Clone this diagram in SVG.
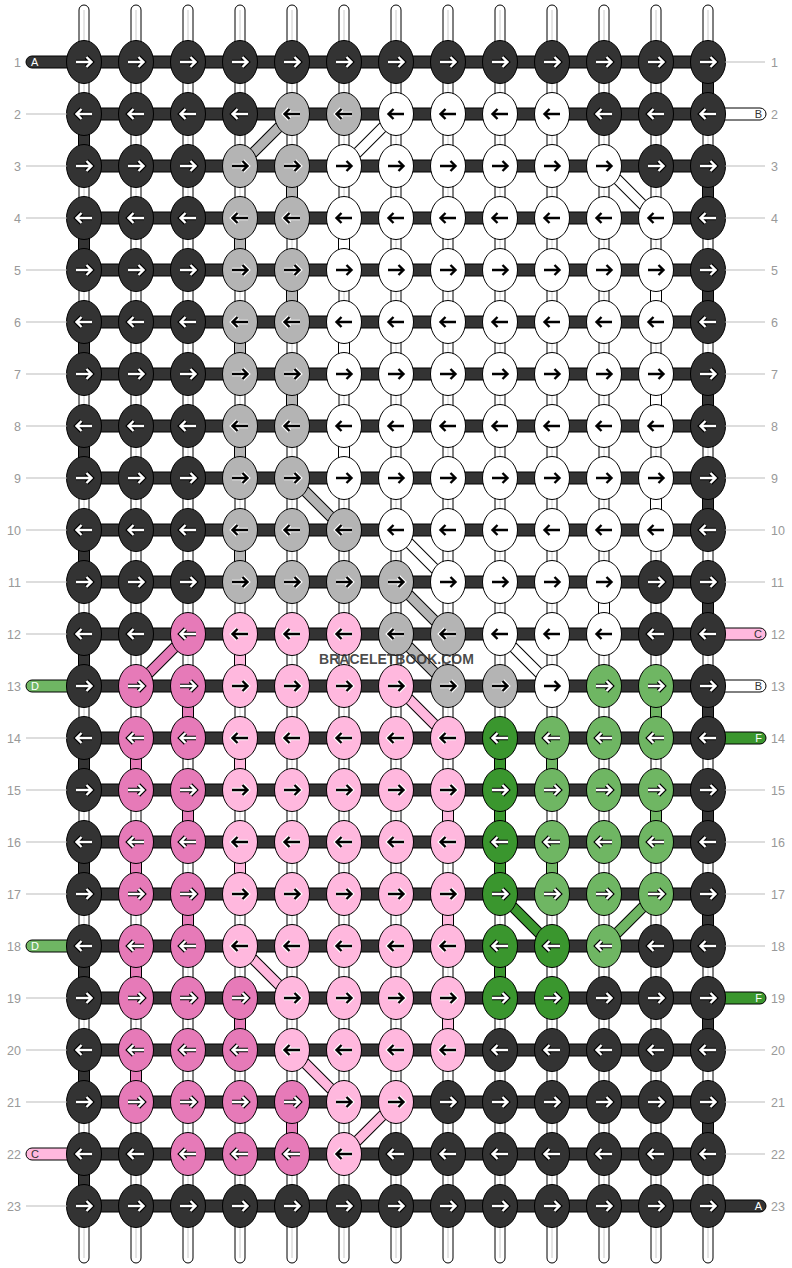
<svg xmlns="http://www.w3.org/2000/svg" xmlns:xlink="http://www.w3.org/1999/xlink" width="792" height="1268" viewBox="0 0 792 1268">
<style>
.D{fill:#333}.W{fill:#fff}.G{fill:#b4b4b4}.P{fill:#ffb8de}.H{fill:#e67ab8}.L{fill:#6fb663}.F{fill:#3a962e}
ellipse,.c rect,.t rect,.bar{stroke:#000;stroke-width:1}
.sw{fill:#fff;stroke:#000;stroke-width:1}.sl{stroke:#ccc;stroke-width:1}
.o{stroke:#000;stroke-width:11}.iG{stroke:#b4b4b4;stroke-width:9}.iW{stroke:#fff;stroke-width:9}.iP{stroke:#ffb8de;stroke-width:9}.iH{stroke:#e67ab8;stroke-width:9}.iL{stroke:#6fb663;stroke-width:9}.iF{stroke:#3a962e;stroke-width:9}
.hk{fill:none;stroke:#000;stroke-width:4.6}.hw{fill:none;stroke:#fff;stroke-width:4.6}
.aw{fill:none;stroke:#fff;stroke-width:2.4}.ab{fill:none;stroke:#000;stroke-width:2.4}
.num{font-family:'Liberation Sans',Arial,sans-serif;font-size:12.5px;fill:#999}
.rl{stroke:#bbb;stroke-width:1}
.tl{font-family:'Liberation Sans',Arial,sans-serif;font-size:11px}
.brand{font-family:'Liberation Sans',Arial,sans-serif;font-weight:bold;font-size:14px;fill:#333;fill-opacity:0.88}
</style>
<defs>
<g id="strand"><rect class="sw" x="-5" y="5" width="10" height="1258" rx="5"/><line class="sl" x1="0" y1="10" x2="0" y2="1258"/></g>
<path id="pr" d="M-8,0H7M2.5,-5L7.5,0L2.5,5"/>
<path id="pl" d="M8,0H-7M-2.5,-5L-7.5,0L-2.5,5"/>
<g id="rw"><use xlink:href="#pr" class="hk"/><use xlink:href="#pr" class="aw"/></g>
<g id="rb"><use xlink:href="#pr" class="hw"/><use xlink:href="#pr" class="ab"/></g>
<g id="lw"><use xlink:href="#pl" class="hk"/><use xlink:href="#pl" class="aw"/></g>
<g id="lb"><use xlink:href="#pl" class="hw"/><use xlink:href="#pl" class="ab"/></g>
</defs>
<rect width="792" height="1268" fill="#fff"/>
<g id="connectors">
<g id="strands">
<use xlink:href="#strand" x="84"/><use xlink:href="#strand" x="136"/><use xlink:href="#strand" x="188"/><use xlink:href="#strand" x="240"/><use xlink:href="#strand" x="292"/><use xlink:href="#strand" x="344"/><use xlink:href="#strand" x="396"/><use xlink:href="#strand" x="448"/><use xlink:href="#strand" x="500"/><use xlink:href="#strand" x="552"/><use xlink:href="#strand" x="604"/><use xlink:href="#strand" x="656"/><use xlink:href="#strand" x="708"/>
</g>
<g id="bars" class="D">
<rect class="bar" x="84" y="56" width="624" height="12"/><rect class="bar" x="84" y="108" width="624" height="12"/><rect class="bar" x="84" y="160" width="624" height="12"/><rect class="bar" x="84" y="212" width="624" height="12"/><rect class="bar" x="84" y="264" width="624" height="12"/><rect class="bar" x="84" y="316" width="624" height="12"/><rect class="bar" x="84" y="368" width="624" height="12"/><rect class="bar" x="84" y="420" width="624" height="12"/><rect class="bar" x="84" y="472" width="624" height="12"/><rect class="bar" x="84" y="524" width="624" height="12"/><rect class="bar" x="84" y="576" width="624" height="12"/><rect class="bar" x="84" y="628" width="624" height="12"/><rect class="bar" x="84" y="680" width="624" height="12"/><rect class="bar" x="84" y="732" width="624" height="12"/><rect class="bar" x="84" y="784" width="624" height="12"/><rect class="bar" x="84" y="836" width="624" height="12"/><rect class="bar" x="84" y="888" width="624" height="12"/><rect class="bar" x="84" y="940" width="624" height="12"/><rect class="bar" x="84" y="992" width="624" height="12"/><rect class="bar" x="84" y="1044" width="624" height="12"/><rect class="bar" x="84" y="1096" width="624" height="12"/><rect class="bar" x="84" y="1148" width="624" height="12"/><rect class="bar" x="84" y="1200" width="624" height="12"/>
</g>
<g id="tails" class="t">
<rect class="D" x="26" y="56" width="62" height="12" rx="6"/>
<rect class="L" x="26" y="680" width="62" height="12" rx="6"/>
<rect class="L" x="26" y="940" width="62" height="12" rx="6"/>
<rect class="P" x="26" y="1148" width="62" height="12" rx="6"/>
<rect class="W" x="704" y="108" width="62" height="12" rx="6"/>
<rect class="P" x="704" y="628" width="62" height="12" rx="6"/>
<rect class="W" x="704" y="680" width="62" height="12" rx="6"/>
<rect class="F" x="704" y="732" width="62" height="12" rx="6"/>
<rect class="F" x="704" y="992" width="62" height="12" rx="6"/>
<rect class="D" x="704" y="1200" width="62" height="12" rx="6"/>
</g>
<g id="verticals" class="c">
<rect class="D" x="78.5" y="114" width="11" height="52"/><rect class="D" x="78.5" y="218" width="11" height="52"/><rect class="D" x="78.5" y="322" width="11" height="52"/><rect class="D" x="78.5" y="426" width="11" height="52"/><rect class="D" x="78.5" y="530" width="11" height="52"/><rect class="D" x="78.5" y="634" width="11" height="52"/><rect class="D" x="78.5" y="738" width="11" height="52"/><rect class="D" x="78.5" y="842" width="11" height="52"/><rect class="D" x="78.5" y="946" width="11" height="52"/><rect class="D" x="78.5" y="1050" width="11" height="52"/><rect class="D" x="78.5" y="1154" width="11" height="52"/>
<rect class="D" x="702.5" y="62" width="11" height="52"/><rect class="D" x="702.5" y="166" width="11" height="52"/><rect class="D" x="702.5" y="270" width="11" height="52"/><rect class="D" x="702.5" y="374" width="11" height="52"/><rect class="D" x="702.5" y="478" width="11" height="52"/><rect class="D" x="702.5" y="582" width="11" height="52"/><rect class="D" x="702.5" y="686" width="11" height="52"/><rect class="D" x="702.5" y="790" width="11" height="52"/><rect class="D" x="702.5" y="894" width="11" height="52"/><rect class="D" x="702.5" y="998" width="11" height="52"/><rect class="D" x="702.5" y="1102" width="11" height="52"/>
<rect class="G" x="286.5" y="166" width="11" height="52"/><rect class="G" x="286.5" y="270" width="11" height="52"/><rect class="G" x="286.5" y="374" width="11" height="52"/>
<rect class="G" x="234.5" y="218" width="11" height="52"/><rect class="G" x="234.5" y="322" width="11" height="52"/><rect class="G" x="234.5" y="426" width="11" height="52"/><rect class="G" x="234.5" y="530" width="11" height="52"/>
<rect class="W" x="338.5" y="218" width="11" height="52"/><rect class="W" x="338.5" y="322" width="11" height="52"/><rect class="W" x="338.5" y="426" width="11" height="52"/>
<rect class="W" x="650.5" y="270" width="11" height="52"/><rect class="W" x="650.5" y="374" width="11" height="52"/><rect class="W" x="650.5" y="478" width="11" height="52"/>
<rect class="W" x="598.5" y="582" width="11" height="52"/>
<rect class="P" x="234.5" y="634" width="11" height="52"/><rect class="P" x="234.5" y="738" width="11" height="52"/><rect class="P" x="234.5" y="842" width="11" height="52"/>
<rect class="P" x="442.5" y="790" width="11" height="52"/><rect class="P" x="442.5" y="894" width="11" height="52"/><rect class="P" x="442.5" y="998" width="11" height="52"/>
<rect class="H" x="182.5" y="686" width="11" height="52"/><rect class="H" x="182.5" y="790" width="11" height="52"/><rect class="H" x="182.5" y="894" width="11" height="52"/>
<rect class="H" x="130.5" y="738" width="11" height="52"/><rect class="H" x="130.5" y="842" width="11" height="52"/><rect class="H" x="130.5" y="946" width="11" height="52"/><rect class="H" x="130.5" y="1050" width="11" height="52"/>
<rect class="H" x="234.5" y="998" width="11" height="52"/><rect class="H" x="286.5" y="1102" width="11" height="52"/>
<rect class="L" x="650.5" y="686" width="11" height="52"/><rect class="L" x="650.5" y="790" width="11" height="52"/>
<rect class="L" x="546.5" y="738" width="11" height="52"/><rect class="L" x="546.5" y="842" width="11" height="52"/>
<rect class="F" x="494.5" y="738" width="11" height="52"/><rect class="F" x="494.5" y="790" width="11" height="52"/><rect class="F" x="494.5" y="842" width="11" height="52"/><rect class="F" x="494.5" y="946" width="11" height="52"/>
</g>
<g id="diagonals">
<line class="o" x1="292" y1="114" x2="240" y2="166"/><line class="iG" x1="292" y1="114" x2="240" y2="166"/>
<line class="o" x1="292" y1="478" x2="344" y2="530"/><line class="iG" x1="292" y1="478" x2="344" y2="530"/>
<line class="o" x1="396" y1="582" x2="448" y2="634"/><line class="iG" x1="396" y1="582" x2="448" y2="634"/>
<line class="o" x1="396" y1="634" x2="448" y2="686"/><line class="iG" x1="396" y1="634" x2="448" y2="686"/>
<line class="o" x1="396" y1="114" x2="344" y2="166"/><line class="iW" x1="396" y1="114" x2="344" y2="166"/>
<line class="o" x1="604" y1="166" x2="656" y2="218"/><line class="iW" x1="604" y1="166" x2="656" y2="218"/>
<line class="o" x1="396" y1="530" x2="448" y2="582"/><line class="iW" x1="396" y1="530" x2="448" y2="582"/>
<line class="o" x1="500" y1="634" x2="552" y2="686"/><line class="iW" x1="500" y1="634" x2="552" y2="686"/>
<line class="o" x1="396" y1="686" x2="448" y2="738"/><line class="iP" x1="396" y1="686" x2="448" y2="738"/>
<line class="o" x1="240" y1="946" x2="292" y2="998"/><line class="iP" x1="240" y1="946" x2="292" y2="998"/>
<line class="o" x1="292" y1="1050" x2="344" y2="1102"/><line class="iP" x1="292" y1="1050" x2="344" y2="1102"/>
<line class="o" x1="396" y1="1102" x2="344" y2="1154"/><line class="iP" x1="396" y1="1102" x2="344" y2="1154"/>
<line class="o" x1="188" y1="634" x2="136" y2="686"/><line class="iH" x1="188" y1="634" x2="136" y2="686"/>
<line class="o" x1="656" y1="894" x2="604" y2="946"/><line class="iL" x1="656" y1="894" x2="604" y2="946"/>
<line class="o" x1="500" y1="894" x2="552" y2="946"/><line class="iF" x1="500" y1="894" x2="552" y2="946"/>
</g>
</g>
<g id="knots">
<g id="row1">
<g id="k1-1" transform="translate(84,62)"><ellipse class="D" rx="17.5" ry="21.5"/><use xlink:href="#rw"/></g>
<g id="k1-2" transform="translate(136,62)"><ellipse class="D" rx="17.5" ry="21.5"/><use xlink:href="#rw"/></g>
<g id="k1-3" transform="translate(188,62)"><ellipse class="D" rx="17.5" ry="21.5"/><use xlink:href="#rw"/></g>
<g id="k1-4" transform="translate(240,62)"><ellipse class="D" rx="17.5" ry="21.5"/><use xlink:href="#rw"/></g>
<g id="k1-5" transform="translate(292,62)"><ellipse class="D" rx="17.5" ry="21.5"/><use xlink:href="#rw"/></g>
<g id="k1-6" transform="translate(344,62)"><ellipse class="D" rx="17.5" ry="21.5"/><use xlink:href="#rw"/></g>
<g id="k1-7" transform="translate(396,62)"><ellipse class="D" rx="17.5" ry="21.5"/><use xlink:href="#rw"/></g>
<g id="k1-8" transform="translate(448,62)"><ellipse class="D" rx="17.5" ry="21.5"/><use xlink:href="#rw"/></g>
<g id="k1-9" transform="translate(500,62)"><ellipse class="D" rx="17.5" ry="21.5"/><use xlink:href="#rw"/></g>
<g id="k1-10" transform="translate(552,62)"><ellipse class="D" rx="17.5" ry="21.5"/><use xlink:href="#rw"/></g>
<g id="k1-11" transform="translate(604,62)"><ellipse class="D" rx="17.5" ry="21.5"/><use xlink:href="#rw"/></g>
<g id="k1-12" transform="translate(656,62)"><ellipse class="D" rx="17.5" ry="21.5"/><use xlink:href="#rw"/></g>
<g id="k1-13" transform="translate(708,62)"><ellipse class="D" rx="17.5" ry="21.5"/><use xlink:href="#rw"/></g>
</g>
<g id="row2">
<g id="k2-1" transform="translate(84,114)"><ellipse class="D" rx="17.5" ry="21.5"/><use xlink:href="#lw"/></g>
<g id="k2-2" transform="translate(136,114)"><ellipse class="D" rx="17.5" ry="21.5"/><use xlink:href="#lw"/></g>
<g id="k2-3" transform="translate(188,114)"><ellipse class="D" rx="17.5" ry="21.5"/><use xlink:href="#lw"/></g>
<g id="k2-4" transform="translate(240,114)"><ellipse class="D" rx="17.5" ry="21.5"/><use xlink:href="#lw"/></g>
<g id="k2-5" transform="translate(292,114)"><ellipse class="G" rx="17.5" ry="21.5"/><use xlink:href="#lb"/></g>
<g id="k2-6" transform="translate(344,114)"><ellipse class="G" rx="17.5" ry="21.5"/><use xlink:href="#lb"/></g>
<g id="k2-7" transform="translate(396,114)"><ellipse class="W" rx="17.5" ry="21.5"/><use xlink:href="#lb"/></g>
<g id="k2-8" transform="translate(448,114)"><ellipse class="W" rx="17.5" ry="21.5"/><use xlink:href="#lb"/></g>
<g id="k2-9" transform="translate(500,114)"><ellipse class="W" rx="17.5" ry="21.5"/><use xlink:href="#lb"/></g>
<g id="k2-10" transform="translate(552,114)"><ellipse class="W" rx="17.5" ry="21.5"/><use xlink:href="#lb"/></g>
<g id="k2-11" transform="translate(604,114)"><ellipse class="D" rx="17.5" ry="21.5"/><use xlink:href="#lw"/></g>
<g id="k2-12" transform="translate(656,114)"><ellipse class="D" rx="17.5" ry="21.5"/><use xlink:href="#lw"/></g>
<g id="k2-13" transform="translate(708,114)"><ellipse class="D" rx="17.5" ry="21.5"/><use xlink:href="#lw"/></g>
</g>
<g id="row3">
<g id="k3-1" transform="translate(84,166)"><ellipse class="D" rx="17.5" ry="21.5"/><use xlink:href="#rw"/></g>
<g id="k3-2" transform="translate(136,166)"><ellipse class="D" rx="17.5" ry="21.5"/><use xlink:href="#rw"/></g>
<g id="k3-3" transform="translate(188,166)"><ellipse class="D" rx="17.5" ry="21.5"/><use xlink:href="#rw"/></g>
<g id="k3-4" transform="translate(240,166)"><ellipse class="G" rx="17.5" ry="21.5"/><use xlink:href="#rb"/></g>
<g id="k3-5" transform="translate(292,166)"><ellipse class="G" rx="17.5" ry="21.5"/><use xlink:href="#rb"/></g>
<g id="k3-6" transform="translate(344,166)"><ellipse class="W" rx="17.5" ry="21.5"/><use xlink:href="#rb"/></g>
<g id="k3-7" transform="translate(396,166)"><ellipse class="W" rx="17.5" ry="21.5"/><use xlink:href="#rb"/></g>
<g id="k3-8" transform="translate(448,166)"><ellipse class="W" rx="17.5" ry="21.5"/><use xlink:href="#rb"/></g>
<g id="k3-9" transform="translate(500,166)"><ellipse class="W" rx="17.5" ry="21.5"/><use xlink:href="#rb"/></g>
<g id="k3-10" transform="translate(552,166)"><ellipse class="W" rx="17.5" ry="21.5"/><use xlink:href="#rb"/></g>
<g id="k3-11" transform="translate(604,166)"><ellipse class="W" rx="17.5" ry="21.5"/><use xlink:href="#rb"/></g>
<g id="k3-12" transform="translate(656,166)"><ellipse class="D" rx="17.5" ry="21.5"/><use xlink:href="#rw"/></g>
<g id="k3-13" transform="translate(708,166)"><ellipse class="D" rx="17.5" ry="21.5"/><use xlink:href="#rw"/></g>
</g>
<g id="row4">
<g id="k4-1" transform="translate(84,218)"><ellipse class="D" rx="17.5" ry="21.5"/><use xlink:href="#lw"/></g>
<g id="k4-2" transform="translate(136,218)"><ellipse class="D" rx="17.5" ry="21.5"/><use xlink:href="#lw"/></g>
<g id="k4-3" transform="translate(188,218)"><ellipse class="D" rx="17.5" ry="21.5"/><use xlink:href="#lw"/></g>
<g id="k4-4" transform="translate(240,218)"><ellipse class="G" rx="17.5" ry="21.5"/><use xlink:href="#lb"/></g>
<g id="k4-5" transform="translate(292,218)"><ellipse class="G" rx="17.5" ry="21.5"/><use xlink:href="#lb"/></g>
<g id="k4-6" transform="translate(344,218)"><ellipse class="W" rx="17.5" ry="21.5"/><use xlink:href="#lb"/></g>
<g id="k4-7" transform="translate(396,218)"><ellipse class="W" rx="17.5" ry="21.5"/><use xlink:href="#lb"/></g>
<g id="k4-8" transform="translate(448,218)"><ellipse class="W" rx="17.5" ry="21.5"/><use xlink:href="#lb"/></g>
<g id="k4-9" transform="translate(500,218)"><ellipse class="W" rx="17.5" ry="21.5"/><use xlink:href="#lb"/></g>
<g id="k4-10" transform="translate(552,218)"><ellipse class="W" rx="17.5" ry="21.5"/><use xlink:href="#lb"/></g>
<g id="k4-11" transform="translate(604,218)"><ellipse class="W" rx="17.5" ry="21.5"/><use xlink:href="#lb"/></g>
<g id="k4-12" transform="translate(656,218)"><ellipse class="W" rx="17.5" ry="21.5"/><use xlink:href="#lb"/></g>
<g id="k4-13" transform="translate(708,218)"><ellipse class="D" rx="17.5" ry="21.5"/><use xlink:href="#lw"/></g>
</g>
<g id="row5">
<g id="k5-1" transform="translate(84,270)"><ellipse class="D" rx="17.5" ry="21.5"/><use xlink:href="#rw"/></g>
<g id="k5-2" transform="translate(136,270)"><ellipse class="D" rx="17.5" ry="21.5"/><use xlink:href="#rw"/></g>
<g id="k5-3" transform="translate(188,270)"><ellipse class="D" rx="17.5" ry="21.5"/><use xlink:href="#rw"/></g>
<g id="k5-4" transform="translate(240,270)"><ellipse class="G" rx="17.5" ry="21.5"/><use xlink:href="#rb"/></g>
<g id="k5-5" transform="translate(292,270)"><ellipse class="G" rx="17.5" ry="21.5"/><use xlink:href="#rb"/></g>
<g id="k5-6" transform="translate(344,270)"><ellipse class="W" rx="17.5" ry="21.5"/><use xlink:href="#rb"/></g>
<g id="k5-7" transform="translate(396,270)"><ellipse class="W" rx="17.5" ry="21.5"/><use xlink:href="#rb"/></g>
<g id="k5-8" transform="translate(448,270)"><ellipse class="W" rx="17.5" ry="21.5"/><use xlink:href="#rb"/></g>
<g id="k5-9" transform="translate(500,270)"><ellipse class="W" rx="17.5" ry="21.5"/><use xlink:href="#rb"/></g>
<g id="k5-10" transform="translate(552,270)"><ellipse class="W" rx="17.5" ry="21.5"/><use xlink:href="#rb"/></g>
<g id="k5-11" transform="translate(604,270)"><ellipse class="W" rx="17.5" ry="21.5"/><use xlink:href="#rb"/></g>
<g id="k5-12" transform="translate(656,270)"><ellipse class="W" rx="17.5" ry="21.5"/><use xlink:href="#rb"/></g>
<g id="k5-13" transform="translate(708,270)"><ellipse class="D" rx="17.5" ry="21.5"/><use xlink:href="#rw"/></g>
</g>
<g id="row6">
<g id="k6-1" transform="translate(84,322)"><ellipse class="D" rx="17.5" ry="21.5"/><use xlink:href="#lw"/></g>
<g id="k6-2" transform="translate(136,322)"><ellipse class="D" rx="17.5" ry="21.5"/><use xlink:href="#lw"/></g>
<g id="k6-3" transform="translate(188,322)"><ellipse class="D" rx="17.5" ry="21.5"/><use xlink:href="#lw"/></g>
<g id="k6-4" transform="translate(240,322)"><ellipse class="G" rx="17.5" ry="21.5"/><use xlink:href="#lb"/></g>
<g id="k6-5" transform="translate(292,322)"><ellipse class="G" rx="17.5" ry="21.5"/><use xlink:href="#lb"/></g>
<g id="k6-6" transform="translate(344,322)"><ellipse class="W" rx="17.5" ry="21.5"/><use xlink:href="#lb"/></g>
<g id="k6-7" transform="translate(396,322)"><ellipse class="W" rx="17.5" ry="21.5"/><use xlink:href="#lb"/></g>
<g id="k6-8" transform="translate(448,322)"><ellipse class="W" rx="17.5" ry="21.5"/><use xlink:href="#lb"/></g>
<g id="k6-9" transform="translate(500,322)"><ellipse class="W" rx="17.5" ry="21.5"/><use xlink:href="#lb"/></g>
<g id="k6-10" transform="translate(552,322)"><ellipse class="W" rx="17.5" ry="21.5"/><use xlink:href="#lb"/></g>
<g id="k6-11" transform="translate(604,322)"><ellipse class="W" rx="17.5" ry="21.5"/><use xlink:href="#lb"/></g>
<g id="k6-12" transform="translate(656,322)"><ellipse class="W" rx="17.5" ry="21.5"/><use xlink:href="#lb"/></g>
<g id="k6-13" transform="translate(708,322)"><ellipse class="D" rx="17.5" ry="21.5"/><use xlink:href="#lw"/></g>
</g>
<g id="row7">
<g id="k7-1" transform="translate(84,374)"><ellipse class="D" rx="17.5" ry="21.5"/><use xlink:href="#rw"/></g>
<g id="k7-2" transform="translate(136,374)"><ellipse class="D" rx="17.5" ry="21.5"/><use xlink:href="#rw"/></g>
<g id="k7-3" transform="translate(188,374)"><ellipse class="D" rx="17.5" ry="21.5"/><use xlink:href="#rw"/></g>
<g id="k7-4" transform="translate(240,374)"><ellipse class="G" rx="17.5" ry="21.5"/><use xlink:href="#rb"/></g>
<g id="k7-5" transform="translate(292,374)"><ellipse class="G" rx="17.5" ry="21.5"/><use xlink:href="#rb"/></g>
<g id="k7-6" transform="translate(344,374)"><ellipse class="W" rx="17.5" ry="21.5"/><use xlink:href="#rb"/></g>
<g id="k7-7" transform="translate(396,374)"><ellipse class="W" rx="17.5" ry="21.5"/><use xlink:href="#rb"/></g>
<g id="k7-8" transform="translate(448,374)"><ellipse class="W" rx="17.5" ry="21.5"/><use xlink:href="#rb"/></g>
<g id="k7-9" transform="translate(500,374)"><ellipse class="W" rx="17.5" ry="21.5"/><use xlink:href="#rb"/></g>
<g id="k7-10" transform="translate(552,374)"><ellipse class="W" rx="17.5" ry="21.5"/><use xlink:href="#rb"/></g>
<g id="k7-11" transform="translate(604,374)"><ellipse class="W" rx="17.5" ry="21.5"/><use xlink:href="#rb"/></g>
<g id="k7-12" transform="translate(656,374)"><ellipse class="W" rx="17.5" ry="21.5"/><use xlink:href="#rb"/></g>
<g id="k7-13" transform="translate(708,374)"><ellipse class="D" rx="17.5" ry="21.5"/><use xlink:href="#rw"/></g>
</g>
<g id="row8">
<g id="k8-1" transform="translate(84,426)"><ellipse class="D" rx="17.5" ry="21.5"/><use xlink:href="#lw"/></g>
<g id="k8-2" transform="translate(136,426)"><ellipse class="D" rx="17.5" ry="21.5"/><use xlink:href="#lw"/></g>
<g id="k8-3" transform="translate(188,426)"><ellipse class="D" rx="17.5" ry="21.5"/><use xlink:href="#lw"/></g>
<g id="k8-4" transform="translate(240,426)"><ellipse class="G" rx="17.5" ry="21.5"/><use xlink:href="#lb"/></g>
<g id="k8-5" transform="translate(292,426)"><ellipse class="G" rx="17.5" ry="21.5"/><use xlink:href="#lb"/></g>
<g id="k8-6" transform="translate(344,426)"><ellipse class="W" rx="17.5" ry="21.5"/><use xlink:href="#lb"/></g>
<g id="k8-7" transform="translate(396,426)"><ellipse class="W" rx="17.5" ry="21.5"/><use xlink:href="#lb"/></g>
<g id="k8-8" transform="translate(448,426)"><ellipse class="W" rx="17.5" ry="21.5"/><use xlink:href="#lb"/></g>
<g id="k8-9" transform="translate(500,426)"><ellipse class="W" rx="17.5" ry="21.5"/><use xlink:href="#lb"/></g>
<g id="k8-10" transform="translate(552,426)"><ellipse class="W" rx="17.5" ry="21.5"/><use xlink:href="#lb"/></g>
<g id="k8-11" transform="translate(604,426)"><ellipse class="W" rx="17.5" ry="21.5"/><use xlink:href="#lb"/></g>
<g id="k8-12" transform="translate(656,426)"><ellipse class="W" rx="17.5" ry="21.5"/><use xlink:href="#lb"/></g>
<g id="k8-13" transform="translate(708,426)"><ellipse class="D" rx="17.5" ry="21.5"/><use xlink:href="#lw"/></g>
</g>
<g id="row9">
<g id="k9-1" transform="translate(84,478)"><ellipse class="D" rx="17.5" ry="21.5"/><use xlink:href="#rw"/></g>
<g id="k9-2" transform="translate(136,478)"><ellipse class="D" rx="17.5" ry="21.5"/><use xlink:href="#rw"/></g>
<g id="k9-3" transform="translate(188,478)"><ellipse class="D" rx="17.5" ry="21.5"/><use xlink:href="#rw"/></g>
<g id="k9-4" transform="translate(240,478)"><ellipse class="G" rx="17.5" ry="21.5"/><use xlink:href="#rb"/></g>
<g id="k9-5" transform="translate(292,478)"><ellipse class="G" rx="17.5" ry="21.5"/><use xlink:href="#rb"/></g>
<g id="k9-6" transform="translate(344,478)"><ellipse class="W" rx="17.5" ry="21.5"/><use xlink:href="#rb"/></g>
<g id="k9-7" transform="translate(396,478)"><ellipse class="W" rx="17.5" ry="21.5"/><use xlink:href="#rb"/></g>
<g id="k9-8" transform="translate(448,478)"><ellipse class="W" rx="17.5" ry="21.5"/><use xlink:href="#rb"/></g>
<g id="k9-9" transform="translate(500,478)"><ellipse class="W" rx="17.5" ry="21.5"/><use xlink:href="#rb"/></g>
<g id="k9-10" transform="translate(552,478)"><ellipse class="W" rx="17.5" ry="21.5"/><use xlink:href="#rb"/></g>
<g id="k9-11" transform="translate(604,478)"><ellipse class="W" rx="17.5" ry="21.5"/><use xlink:href="#rb"/></g>
<g id="k9-12" transform="translate(656,478)"><ellipse class="W" rx="17.5" ry="21.5"/><use xlink:href="#rb"/></g>
<g id="k9-13" transform="translate(708,478)"><ellipse class="D" rx="17.5" ry="21.5"/><use xlink:href="#rw"/></g>
</g>
<g id="row10">
<g id="k10-1" transform="translate(84,530)"><ellipse class="D" rx="17.5" ry="21.5"/><use xlink:href="#lw"/></g>
<g id="k10-2" transform="translate(136,530)"><ellipse class="D" rx="17.5" ry="21.5"/><use xlink:href="#lw"/></g>
<g id="k10-3" transform="translate(188,530)"><ellipse class="D" rx="17.5" ry="21.5"/><use xlink:href="#lw"/></g>
<g id="k10-4" transform="translate(240,530)"><ellipse class="G" rx="17.5" ry="21.5"/><use xlink:href="#lb"/></g>
<g id="k10-5" transform="translate(292,530)"><ellipse class="G" rx="17.5" ry="21.5"/><use xlink:href="#lb"/></g>
<g id="k10-6" transform="translate(344,530)"><ellipse class="G" rx="17.5" ry="21.5"/><use xlink:href="#lb"/></g>
<g id="k10-7" transform="translate(396,530)"><ellipse class="W" rx="17.5" ry="21.5"/><use xlink:href="#lb"/></g>
<g id="k10-8" transform="translate(448,530)"><ellipse class="W" rx="17.5" ry="21.5"/><use xlink:href="#lb"/></g>
<g id="k10-9" transform="translate(500,530)"><ellipse class="W" rx="17.5" ry="21.5"/><use xlink:href="#lb"/></g>
<g id="k10-10" transform="translate(552,530)"><ellipse class="W" rx="17.5" ry="21.5"/><use xlink:href="#lb"/></g>
<g id="k10-11" transform="translate(604,530)"><ellipse class="W" rx="17.5" ry="21.5"/><use xlink:href="#lb"/></g>
<g id="k10-12" transform="translate(656,530)"><ellipse class="W" rx="17.5" ry="21.5"/><use xlink:href="#lb"/></g>
<g id="k10-13" transform="translate(708,530)"><ellipse class="D" rx="17.5" ry="21.5"/><use xlink:href="#lw"/></g>
</g>
<g id="row11">
<g id="k11-1" transform="translate(84,582)"><ellipse class="D" rx="17.5" ry="21.5"/><use xlink:href="#rw"/></g>
<g id="k11-2" transform="translate(136,582)"><ellipse class="D" rx="17.5" ry="21.5"/><use xlink:href="#rw"/></g>
<g id="k11-3" transform="translate(188,582)"><ellipse class="D" rx="17.5" ry="21.5"/><use xlink:href="#rw"/></g>
<g id="k11-4" transform="translate(240,582)"><ellipse class="G" rx="17.5" ry="21.5"/><use xlink:href="#rb"/></g>
<g id="k11-5" transform="translate(292,582)"><ellipse class="G" rx="17.5" ry="21.5"/><use xlink:href="#rb"/></g>
<g id="k11-6" transform="translate(344,582)"><ellipse class="G" rx="17.5" ry="21.5"/><use xlink:href="#rb"/></g>
<g id="k11-7" transform="translate(396,582)"><ellipse class="G" rx="17.5" ry="21.5"/><use xlink:href="#rb"/></g>
<g id="k11-8" transform="translate(448,582)"><ellipse class="W" rx="17.5" ry="21.5"/><use xlink:href="#rb"/></g>
<g id="k11-9" transform="translate(500,582)"><ellipse class="W" rx="17.5" ry="21.5"/><use xlink:href="#rb"/></g>
<g id="k11-10" transform="translate(552,582)"><ellipse class="W" rx="17.5" ry="21.5"/><use xlink:href="#rb"/></g>
<g id="k11-11" transform="translate(604,582)"><ellipse class="W" rx="17.5" ry="21.5"/><use xlink:href="#rb"/></g>
<g id="k11-12" transform="translate(656,582)"><ellipse class="D" rx="17.5" ry="21.5"/><use xlink:href="#rw"/></g>
<g id="k11-13" transform="translate(708,582)"><ellipse class="D" rx="17.5" ry="21.5"/><use xlink:href="#rw"/></g>
</g>
<g id="row12">
<g id="k12-1" transform="translate(84,634)"><ellipse class="D" rx="17.5" ry="21.5"/><use xlink:href="#lw"/></g>
<g id="k12-2" transform="translate(136,634)"><ellipse class="D" rx="17.5" ry="21.5"/><use xlink:href="#lw"/></g>
<g id="k12-3" transform="translate(188,634)"><ellipse class="H" rx="17.5" ry="21.5"/><use xlink:href="#lw"/></g>
<g id="k12-4" transform="translate(240,634)"><ellipse class="P" rx="17.5" ry="21.5"/><use xlink:href="#lb"/></g>
<g id="k12-5" transform="translate(292,634)"><ellipse class="P" rx="17.5" ry="21.5"/><use xlink:href="#lb"/></g>
<g id="k12-6" transform="translate(344,634)"><ellipse class="P" rx="17.5" ry="21.5"/><use xlink:href="#lb"/></g>
<g id="k12-7" transform="translate(396,634)"><ellipse class="G" rx="17.5" ry="21.5"/><use xlink:href="#lb"/></g>
<g id="k12-8" transform="translate(448,634)"><ellipse class="G" rx="17.5" ry="21.5"/><use xlink:href="#lb"/></g>
<g id="k12-9" transform="translate(500,634)"><ellipse class="W" rx="17.5" ry="21.5"/><use xlink:href="#lb"/></g>
<g id="k12-10" transform="translate(552,634)"><ellipse class="W" rx="17.5" ry="21.5"/><use xlink:href="#lb"/></g>
<g id="k12-11" transform="translate(604,634)"><ellipse class="W" rx="17.5" ry="21.5"/><use xlink:href="#lb"/></g>
<g id="k12-12" transform="translate(656,634)"><ellipse class="D" rx="17.5" ry="21.5"/><use xlink:href="#lw"/></g>
<g id="k12-13" transform="translate(708,634)"><ellipse class="D" rx="17.5" ry="21.5"/><use xlink:href="#lw"/></g>
</g>
<g id="row13">
<g id="k13-1" transform="translate(84,686)"><ellipse class="D" rx="17.5" ry="21.5"/><use xlink:href="#rw"/></g>
<g id="k13-2" transform="translate(136,686)"><ellipse class="H" rx="17.5" ry="21.5"/><use xlink:href="#rw"/></g>
<g id="k13-3" transform="translate(188,686)"><ellipse class="H" rx="17.5" ry="21.5"/><use xlink:href="#rw"/></g>
<g id="k13-4" transform="translate(240,686)"><ellipse class="P" rx="17.5" ry="21.5"/><use xlink:href="#rb"/></g>
<g id="k13-5" transform="translate(292,686)"><ellipse class="P" rx="17.5" ry="21.5"/><use xlink:href="#rb"/></g>
<g id="k13-6" transform="translate(344,686)"><ellipse class="P" rx="17.5" ry="21.5"/><use xlink:href="#rb"/></g>
<g id="k13-7" transform="translate(396,686)"><ellipse class="P" rx="17.5" ry="21.5"/><use xlink:href="#rb"/></g>
<g id="k13-8" transform="translate(448,686)"><ellipse class="G" rx="17.5" ry="21.5"/><use xlink:href="#rb"/></g>
<g id="k13-9" transform="translate(500,686)"><ellipse class="G" rx="17.5" ry="21.5"/><use xlink:href="#rb"/></g>
<g id="k13-10" transform="translate(552,686)"><ellipse class="W" rx="17.5" ry="21.5"/><use xlink:href="#rb"/></g>
<g id="k13-11" transform="translate(604,686)"><ellipse class="L" rx="17.5" ry="21.5"/><use xlink:href="#rw"/></g>
<g id="k13-12" transform="translate(656,686)"><ellipse class="L" rx="17.5" ry="21.5"/><use xlink:href="#rw"/></g>
<g id="k13-13" transform="translate(708,686)"><ellipse class="D" rx="17.5" ry="21.5"/><use xlink:href="#rw"/></g>
</g>
<g id="row14">
<g id="k14-1" transform="translate(84,738)"><ellipse class="D" rx="17.5" ry="21.5"/><use xlink:href="#lw"/></g>
<g id="k14-2" transform="translate(136,738)"><ellipse class="H" rx="17.5" ry="21.5"/><use xlink:href="#lw"/></g>
<g id="k14-3" transform="translate(188,738)"><ellipse class="H" rx="17.5" ry="21.5"/><use xlink:href="#lw"/></g>
<g id="k14-4" transform="translate(240,738)"><ellipse class="P" rx="17.5" ry="21.5"/><use xlink:href="#lb"/></g>
<g id="k14-5" transform="translate(292,738)"><ellipse class="P" rx="17.5" ry="21.5"/><use xlink:href="#lb"/></g>
<g id="k14-6" transform="translate(344,738)"><ellipse class="P" rx="17.5" ry="21.5"/><use xlink:href="#lb"/></g>
<g id="k14-7" transform="translate(396,738)"><ellipse class="P" rx="17.5" ry="21.5"/><use xlink:href="#lb"/></g>
<g id="k14-8" transform="translate(448,738)"><ellipse class="P" rx="17.5" ry="21.5"/><use xlink:href="#lb"/></g>
<g id="k14-9" transform="translate(500,738)"><ellipse class="F" rx="17.5" ry="21.5"/><use xlink:href="#lw"/></g>
<g id="k14-10" transform="translate(552,738)"><ellipse class="L" rx="17.5" ry="21.5"/><use xlink:href="#lw"/></g>
<g id="k14-11" transform="translate(604,738)"><ellipse class="L" rx="17.5" ry="21.5"/><use xlink:href="#lw"/></g>
<g id="k14-12" transform="translate(656,738)"><ellipse class="L" rx="17.5" ry="21.5"/><use xlink:href="#lw"/></g>
<g id="k14-13" transform="translate(708,738)"><ellipse class="D" rx="17.5" ry="21.5"/><use xlink:href="#lw"/></g>
</g>
<g id="row15">
<g id="k15-1" transform="translate(84,790)"><ellipse class="D" rx="17.5" ry="21.5"/><use xlink:href="#rw"/></g>
<g id="k15-2" transform="translate(136,790)"><ellipse class="H" rx="17.5" ry="21.5"/><use xlink:href="#rw"/></g>
<g id="k15-3" transform="translate(188,790)"><ellipse class="H" rx="17.5" ry="21.5"/><use xlink:href="#rw"/></g>
<g id="k15-4" transform="translate(240,790)"><ellipse class="P" rx="17.5" ry="21.5"/><use xlink:href="#rb"/></g>
<g id="k15-5" transform="translate(292,790)"><ellipse class="P" rx="17.5" ry="21.5"/><use xlink:href="#rb"/></g>
<g id="k15-6" transform="translate(344,790)"><ellipse class="P" rx="17.5" ry="21.5"/><use xlink:href="#rb"/></g>
<g id="k15-7" transform="translate(396,790)"><ellipse class="P" rx="17.5" ry="21.5"/><use xlink:href="#rb"/></g>
<g id="k15-8" transform="translate(448,790)"><ellipse class="P" rx="17.5" ry="21.5"/><use xlink:href="#rb"/></g>
<g id="k15-9" transform="translate(500,790)"><ellipse class="F" rx="17.5" ry="21.5"/><use xlink:href="#rw"/></g>
<g id="k15-10" transform="translate(552,790)"><ellipse class="L" rx="17.5" ry="21.5"/><use xlink:href="#rw"/></g>
<g id="k15-11" transform="translate(604,790)"><ellipse class="L" rx="17.5" ry="21.5"/><use xlink:href="#rw"/></g>
<g id="k15-12" transform="translate(656,790)"><ellipse class="L" rx="17.5" ry="21.5"/><use xlink:href="#rw"/></g>
<g id="k15-13" transform="translate(708,790)"><ellipse class="D" rx="17.5" ry="21.5"/><use xlink:href="#rw"/></g>
</g>
<g id="row16">
<g id="k16-1" transform="translate(84,842)"><ellipse class="D" rx="17.5" ry="21.5"/><use xlink:href="#lw"/></g>
<g id="k16-2" transform="translate(136,842)"><ellipse class="H" rx="17.5" ry="21.5"/><use xlink:href="#lw"/></g>
<g id="k16-3" transform="translate(188,842)"><ellipse class="H" rx="17.5" ry="21.5"/><use xlink:href="#lw"/></g>
<g id="k16-4" transform="translate(240,842)"><ellipse class="P" rx="17.5" ry="21.5"/><use xlink:href="#lb"/></g>
<g id="k16-5" transform="translate(292,842)"><ellipse class="P" rx="17.5" ry="21.5"/><use xlink:href="#lb"/></g>
<g id="k16-6" transform="translate(344,842)"><ellipse class="P" rx="17.5" ry="21.5"/><use xlink:href="#lb"/></g>
<g id="k16-7" transform="translate(396,842)"><ellipse class="P" rx="17.5" ry="21.5"/><use xlink:href="#lb"/></g>
<g id="k16-8" transform="translate(448,842)"><ellipse class="P" rx="17.5" ry="21.5"/><use xlink:href="#lb"/></g>
<g id="k16-9" transform="translate(500,842)"><ellipse class="F" rx="17.5" ry="21.5"/><use xlink:href="#lw"/></g>
<g id="k16-10" transform="translate(552,842)"><ellipse class="L" rx="17.5" ry="21.5"/><use xlink:href="#lw"/></g>
<g id="k16-11" transform="translate(604,842)"><ellipse class="L" rx="17.5" ry="21.5"/><use xlink:href="#lw"/></g>
<g id="k16-12" transform="translate(656,842)"><ellipse class="L" rx="17.5" ry="21.5"/><use xlink:href="#lw"/></g>
<g id="k16-13" transform="translate(708,842)"><ellipse class="D" rx="17.5" ry="21.5"/><use xlink:href="#lw"/></g>
</g>
<g id="row17">
<g id="k17-1" transform="translate(84,894)"><ellipse class="D" rx="17.5" ry="21.5"/><use xlink:href="#rw"/></g>
<g id="k17-2" transform="translate(136,894)"><ellipse class="H" rx="17.5" ry="21.5"/><use xlink:href="#rw"/></g>
<g id="k17-3" transform="translate(188,894)"><ellipse class="H" rx="17.5" ry="21.5"/><use xlink:href="#rw"/></g>
<g id="k17-4" transform="translate(240,894)"><ellipse class="P" rx="17.5" ry="21.5"/><use xlink:href="#rb"/></g>
<g id="k17-5" transform="translate(292,894)"><ellipse class="P" rx="17.5" ry="21.5"/><use xlink:href="#rb"/></g>
<g id="k17-6" transform="translate(344,894)"><ellipse class="P" rx="17.5" ry="21.5"/><use xlink:href="#rb"/></g>
<g id="k17-7" transform="translate(396,894)"><ellipse class="P" rx="17.5" ry="21.5"/><use xlink:href="#rb"/></g>
<g id="k17-8" transform="translate(448,894)"><ellipse class="P" rx="17.5" ry="21.5"/><use xlink:href="#rb"/></g>
<g id="k17-9" transform="translate(500,894)"><ellipse class="F" rx="17.5" ry="21.5"/><use xlink:href="#rw"/></g>
<g id="k17-10" transform="translate(552,894)"><ellipse class="L" rx="17.5" ry="21.5"/><use xlink:href="#rw"/></g>
<g id="k17-11" transform="translate(604,894)"><ellipse class="L" rx="17.5" ry="21.5"/><use xlink:href="#rw"/></g>
<g id="k17-12" transform="translate(656,894)"><ellipse class="L" rx="17.5" ry="21.5"/><use xlink:href="#rw"/></g>
<g id="k17-13" transform="translate(708,894)"><ellipse class="D" rx="17.5" ry="21.5"/><use xlink:href="#rw"/></g>
</g>
<g id="row18">
<g id="k18-1" transform="translate(84,946)"><ellipse class="D" rx="17.5" ry="21.5"/><use xlink:href="#lw"/></g>
<g id="k18-2" transform="translate(136,946)"><ellipse class="H" rx="17.5" ry="21.5"/><use xlink:href="#lw"/></g>
<g id="k18-3" transform="translate(188,946)"><ellipse class="H" rx="17.5" ry="21.5"/><use xlink:href="#lw"/></g>
<g id="k18-4" transform="translate(240,946)"><ellipse class="P" rx="17.5" ry="21.5"/><use xlink:href="#lb"/></g>
<g id="k18-5" transform="translate(292,946)"><ellipse class="P" rx="17.5" ry="21.5"/><use xlink:href="#lb"/></g>
<g id="k18-6" transform="translate(344,946)"><ellipse class="P" rx="17.5" ry="21.5"/><use xlink:href="#lb"/></g>
<g id="k18-7" transform="translate(396,946)"><ellipse class="P" rx="17.5" ry="21.5"/><use xlink:href="#lb"/></g>
<g id="k18-8" transform="translate(448,946)"><ellipse class="P" rx="17.5" ry="21.5"/><use xlink:href="#lb"/></g>
<g id="k18-9" transform="translate(500,946)"><ellipse class="F" rx="17.5" ry="21.5"/><use xlink:href="#lw"/></g>
<g id="k18-10" transform="translate(552,946)"><ellipse class="F" rx="17.5" ry="21.5"/><use xlink:href="#lw"/></g>
<g id="k18-11" transform="translate(604,946)"><ellipse class="L" rx="17.5" ry="21.5"/><use xlink:href="#lw"/></g>
<g id="k18-12" transform="translate(656,946)"><ellipse class="D" rx="17.5" ry="21.5"/><use xlink:href="#lw"/></g>
<g id="k18-13" transform="translate(708,946)"><ellipse class="D" rx="17.5" ry="21.5"/><use xlink:href="#lw"/></g>
</g>
<g id="row19">
<g id="k19-1" transform="translate(84,998)"><ellipse class="D" rx="17.5" ry="21.5"/><use xlink:href="#rw"/></g>
<g id="k19-2" transform="translate(136,998)"><ellipse class="H" rx="17.5" ry="21.5"/><use xlink:href="#rw"/></g>
<g id="k19-3" transform="translate(188,998)"><ellipse class="H" rx="17.5" ry="21.5"/><use xlink:href="#rw"/></g>
<g id="k19-4" transform="translate(240,998)"><ellipse class="H" rx="17.5" ry="21.5"/><use xlink:href="#rw"/></g>
<g id="k19-5" transform="translate(292,998)"><ellipse class="P" rx="17.5" ry="21.5"/><use xlink:href="#rb"/></g>
<g id="k19-6" transform="translate(344,998)"><ellipse class="P" rx="17.5" ry="21.5"/><use xlink:href="#rb"/></g>
<g id="k19-7" transform="translate(396,998)"><ellipse class="P" rx="17.5" ry="21.5"/><use xlink:href="#rb"/></g>
<g id="k19-8" transform="translate(448,998)"><ellipse class="P" rx="17.5" ry="21.5"/><use xlink:href="#rb"/></g>
<g id="k19-9" transform="translate(500,998)"><ellipse class="F" rx="17.5" ry="21.5"/><use xlink:href="#rw"/></g>
<g id="k19-10" transform="translate(552,998)"><ellipse class="F" rx="17.5" ry="21.5"/><use xlink:href="#rw"/></g>
<g id="k19-11" transform="translate(604,998)"><ellipse class="D" rx="17.5" ry="21.5"/><use xlink:href="#rw"/></g>
<g id="k19-12" transform="translate(656,998)"><ellipse class="D" rx="17.5" ry="21.5"/><use xlink:href="#rw"/></g>
<g id="k19-13" transform="translate(708,998)"><ellipse class="D" rx="17.5" ry="21.5"/><use xlink:href="#rw"/></g>
</g>
<g id="row20">
<g id="k20-1" transform="translate(84,1050)"><ellipse class="D" rx="17.5" ry="21.5"/><use xlink:href="#lw"/></g>
<g id="k20-2" transform="translate(136,1050)"><ellipse class="H" rx="17.5" ry="21.5"/><use xlink:href="#lw"/></g>
<g id="k20-3" transform="translate(188,1050)"><ellipse class="H" rx="17.5" ry="21.5"/><use xlink:href="#lw"/></g>
<g id="k20-4" transform="translate(240,1050)"><ellipse class="H" rx="17.5" ry="21.5"/><use xlink:href="#lw"/></g>
<g id="k20-5" transform="translate(292,1050)"><ellipse class="P" rx="17.5" ry="21.5"/><use xlink:href="#lb"/></g>
<g id="k20-6" transform="translate(344,1050)"><ellipse class="P" rx="17.5" ry="21.5"/><use xlink:href="#lb"/></g>
<g id="k20-7" transform="translate(396,1050)"><ellipse class="P" rx="17.5" ry="21.5"/><use xlink:href="#lb"/></g>
<g id="k20-8" transform="translate(448,1050)"><ellipse class="P" rx="17.5" ry="21.5"/><use xlink:href="#lb"/></g>
<g id="k20-9" transform="translate(500,1050)"><ellipse class="D" rx="17.5" ry="21.5"/><use xlink:href="#lw"/></g>
<g id="k20-10" transform="translate(552,1050)"><ellipse class="D" rx="17.5" ry="21.5"/><use xlink:href="#lw"/></g>
<g id="k20-11" transform="translate(604,1050)"><ellipse class="D" rx="17.5" ry="21.5"/><use xlink:href="#lw"/></g>
<g id="k20-12" transform="translate(656,1050)"><ellipse class="D" rx="17.5" ry="21.5"/><use xlink:href="#lw"/></g>
<g id="k20-13" transform="translate(708,1050)"><ellipse class="D" rx="17.5" ry="21.5"/><use xlink:href="#lw"/></g>
</g>
<g id="row21">
<g id="k21-1" transform="translate(84,1102)"><ellipse class="D" rx="17.5" ry="21.5"/><use xlink:href="#rw"/></g>
<g id="k21-2" transform="translate(136,1102)"><ellipse class="H" rx="17.5" ry="21.5"/><use xlink:href="#rw"/></g>
<g id="k21-3" transform="translate(188,1102)"><ellipse class="H" rx="17.5" ry="21.5"/><use xlink:href="#rw"/></g>
<g id="k21-4" transform="translate(240,1102)"><ellipse class="H" rx="17.5" ry="21.5"/><use xlink:href="#rw"/></g>
<g id="k21-5" transform="translate(292,1102)"><ellipse class="H" rx="17.5" ry="21.5"/><use xlink:href="#rw"/></g>
<g id="k21-6" transform="translate(344,1102)"><ellipse class="P" rx="17.5" ry="21.5"/><use xlink:href="#rb"/></g>
<g id="k21-7" transform="translate(396,1102)"><ellipse class="P" rx="17.5" ry="21.5"/><use xlink:href="#rb"/></g>
<g id="k21-8" transform="translate(448,1102)"><ellipse class="D" rx="17.5" ry="21.5"/><use xlink:href="#rw"/></g>
<g id="k21-9" transform="translate(500,1102)"><ellipse class="D" rx="17.5" ry="21.5"/><use xlink:href="#rw"/></g>
<g id="k21-10" transform="translate(552,1102)"><ellipse class="D" rx="17.5" ry="21.5"/><use xlink:href="#rw"/></g>
<g id="k21-11" transform="translate(604,1102)"><ellipse class="D" rx="17.5" ry="21.5"/><use xlink:href="#rw"/></g>
<g id="k21-12" transform="translate(656,1102)"><ellipse class="D" rx="17.5" ry="21.5"/><use xlink:href="#rw"/></g>
<g id="k21-13" transform="translate(708,1102)"><ellipse class="D" rx="17.5" ry="21.5"/><use xlink:href="#rw"/></g>
</g>
<g id="row22">
<g id="k22-1" transform="translate(84,1154)"><ellipse class="D" rx="17.5" ry="21.5"/><use xlink:href="#lw"/></g>
<g id="k22-2" transform="translate(136,1154)"><ellipse class="D" rx="17.5" ry="21.5"/><use xlink:href="#lw"/></g>
<g id="k22-3" transform="translate(188,1154)"><ellipse class="H" rx="17.5" ry="21.5"/><use xlink:href="#lw"/></g>
<g id="k22-4" transform="translate(240,1154)"><ellipse class="H" rx="17.5" ry="21.5"/><use xlink:href="#lw"/></g>
<g id="k22-5" transform="translate(292,1154)"><ellipse class="H" rx="17.5" ry="21.5"/><use xlink:href="#lw"/></g>
<g id="k22-6" transform="translate(344,1154)"><ellipse class="P" rx="17.5" ry="21.5"/><use xlink:href="#lb"/></g>
<g id="k22-7" transform="translate(396,1154)"><ellipse class="D" rx="17.5" ry="21.5"/><use xlink:href="#lw"/></g>
<g id="k22-8" transform="translate(448,1154)"><ellipse class="D" rx="17.5" ry="21.5"/><use xlink:href="#lw"/></g>
<g id="k22-9" transform="translate(500,1154)"><ellipse class="D" rx="17.5" ry="21.5"/><use xlink:href="#lw"/></g>
<g id="k22-10" transform="translate(552,1154)"><ellipse class="D" rx="17.5" ry="21.5"/><use xlink:href="#lw"/></g>
<g id="k22-11" transform="translate(604,1154)"><ellipse class="D" rx="17.5" ry="21.5"/><use xlink:href="#lw"/></g>
<g id="k22-12" transform="translate(656,1154)"><ellipse class="D" rx="17.5" ry="21.5"/><use xlink:href="#lw"/></g>
<g id="k22-13" transform="translate(708,1154)"><ellipse class="D" rx="17.5" ry="21.5"/><use xlink:href="#lw"/></g>
</g>
<g id="row23">
<g id="k23-1" transform="translate(84,1206)"><ellipse class="D" rx="17.5" ry="21.5"/><use xlink:href="#rw"/></g>
<g id="k23-2" transform="translate(136,1206)"><ellipse class="D" rx="17.5" ry="21.5"/><use xlink:href="#rw"/></g>
<g id="k23-3" transform="translate(188,1206)"><ellipse class="D" rx="17.5" ry="21.5"/><use xlink:href="#rw"/></g>
<g id="k23-4" transform="translate(240,1206)"><ellipse class="D" rx="17.5" ry="21.5"/><use xlink:href="#rw"/></g>
<g id="k23-5" transform="translate(292,1206)"><ellipse class="D" rx="17.5" ry="21.5"/><use xlink:href="#rw"/></g>
<g id="k23-6" transform="translate(344,1206)"><ellipse class="D" rx="17.5" ry="21.5"/><use xlink:href="#rw"/></g>
<g id="k23-7" transform="translate(396,1206)"><ellipse class="D" rx="17.5" ry="21.5"/><use xlink:href="#rw"/></g>
<g id="k23-8" transform="translate(448,1206)"><ellipse class="D" rx="17.5" ry="21.5"/><use xlink:href="#rw"/></g>
<g id="k23-9" transform="translate(500,1206)"><ellipse class="D" rx="17.5" ry="21.5"/><use xlink:href="#rw"/></g>
<g id="k23-10" transform="translate(552,1206)"><ellipse class="D" rx="17.5" ry="21.5"/><use xlink:href="#rw"/></g>
<g id="k23-11" transform="translate(604,1206)"><ellipse class="D" rx="17.5" ry="21.5"/><use xlink:href="#rw"/></g>
<g id="k23-12" transform="translate(656,1206)"><ellipse class="D" rx="17.5" ry="21.5"/><use xlink:href="#rw"/></g>
<g id="k23-13" transform="translate(708,1206)"><ellipse class="D" rx="17.5" ry="21.5"/><use xlink:href="#rw"/></g>
</g>
</g>
<g id="tail-labels" class="tl">
<text x="31" y="66" fill="#fff">A</text>
<text x="31" y="690" fill="#fff">D</text>
<text x="31" y="950" fill="#fff">D</text>
<text x="31" y="1158" fill="#333">C</text>
<text x="762" y="118" text-anchor="end" fill="#333">B</text>
<text x="762" y="638" text-anchor="end" fill="#333">C</text>
<text x="762" y="690" text-anchor="end" fill="#333">B</text>
<text x="762" y="742" text-anchor="end" fill="#fff">F</text>
<text x="762" y="1002" text-anchor="end" fill="#fff">F</text>
<text x="762" y="1210" text-anchor="end" fill="#fff">A</text>
</g>
<g id="row-lines" class="rl">
<line x1="26" y1="114" x2="67" y2="114"/><line x1="26" y1="166" x2="67" y2="166"/><line x1="26" y1="218" x2="67" y2="218"/><line x1="26" y1="270" x2="67" y2="270"/><line x1="26" y1="322" x2="67" y2="322"/><line x1="26" y1="374" x2="67" y2="374"/><line x1="26" y1="426" x2="67" y2="426"/><line x1="26" y1="478" x2="67" y2="478"/><line x1="26" y1="530" x2="67" y2="530"/><line x1="26" y1="582" x2="67" y2="582"/><line x1="26" y1="634" x2="67" y2="634"/><line x1="26" y1="738" x2="67" y2="738"/><line x1="26" y1="790" x2="67" y2="790"/><line x1="26" y1="842" x2="67" y2="842"/><line x1="26" y1="894" x2="67" y2="894"/><line x1="26" y1="998" x2="67" y2="998"/><line x1="26" y1="1050" x2="67" y2="1050"/><line x1="26" y1="1102" x2="67" y2="1102"/><line x1="26" y1="1206" x2="67" y2="1206"/>
<line x1="725" y1="62" x2="765" y2="62"/><line x1="725" y1="166" x2="765" y2="166"/><line x1="725" y1="218" x2="765" y2="218"/><line x1="725" y1="270" x2="765" y2="270"/><line x1="725" y1="322" x2="765" y2="322"/><line x1="725" y1="374" x2="765" y2="374"/><line x1="725" y1="426" x2="765" y2="426"/><line x1="725" y1="478" x2="765" y2="478"/><line x1="725" y1="530" x2="765" y2="530"/><line x1="725" y1="582" x2="765" y2="582"/><line x1="725" y1="790" x2="765" y2="790"/><line x1="725" y1="842" x2="765" y2="842"/><line x1="725" y1="894" x2="765" y2="894"/><line x1="725" y1="946" x2="765" y2="946"/><line x1="725" y1="1050" x2="765" y2="1050"/><line x1="725" y1="1102" x2="765" y2="1102"/><line x1="725" y1="1154" x2="765" y2="1154"/>
</g>
<g id="row-numbers-left" class="num" text-anchor="end">
<text x="21" y="66.5">1</text><text x="21" y="118.5">2</text><text x="21" y="170.5">3</text><text x="21" y="222.5">4</text><text x="21" y="274.5">5</text><text x="21" y="326.5">6</text><text x="21" y="378.5">7</text><text x="21" y="430.5">8</text><text x="21" y="482.5">9</text><text x="21" y="534.5">10</text><text x="21" y="586.5">11</text><text x="21" y="638.5">12</text><text x="21" y="690.5">13</text><text x="21" y="742.5">14</text><text x="21" y="794.5">15</text><text x="21" y="846.5">16</text><text x="21" y="898.5">17</text><text x="21" y="950.5">18</text><text x="21" y="1002.5">19</text><text x="21" y="1054.5">20</text><text x="21" y="1106.5">21</text><text x="21" y="1158.5">22</text><text x="21" y="1210.5">23</text>
</g>
<g id="row-numbers-right" class="num">
<text x="771" y="66.5">1</text><text x="771" y="118.5">2</text><text x="771" y="170.5">3</text><text x="771" y="222.5">4</text><text x="771" y="274.5">5</text><text x="771" y="326.5">6</text><text x="771" y="378.5">7</text><text x="771" y="430.5">8</text><text x="771" y="482.5">9</text><text x="771" y="534.5">10</text><text x="771" y="586.5">11</text><text x="771" y="638.5">12</text><text x="771" y="690.5">13</text><text x="771" y="742.5">14</text><text x="771" y="794.5">15</text><text x="771" y="846.5">16</text><text x="771" y="898.5">17</text><text x="771" y="950.5">18</text><text x="771" y="1002.5">19</text><text x="771" y="1054.5">20</text><text x="771" y="1106.5">21</text><text x="771" y="1158.5">22</text><text x="771" y="1210.5">23</text>
</g>
<text id="brand" class="brand" x="396.5" y="664" text-anchor="middle">BRACELETBOOK.COM</text>
</svg>
